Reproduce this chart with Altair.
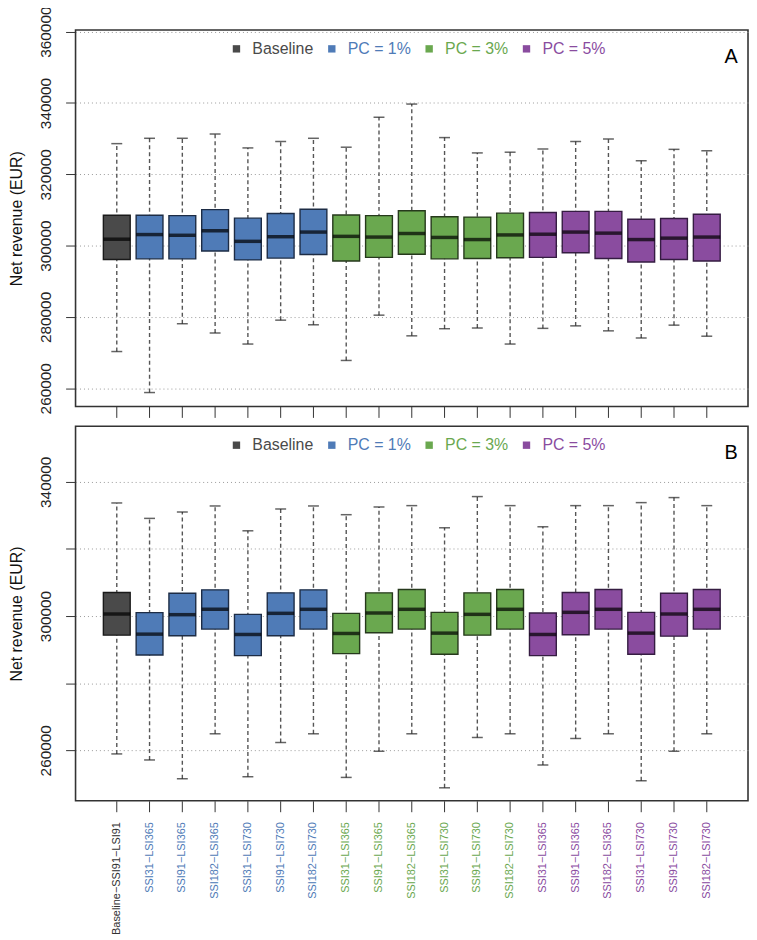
import json
import altair as alt
import pandas as pd

# ---------------- data ----------------
names = [
    "Baseline−SSI91−LSI91",
    "SSI31−LSI365", "SSI91−LSI365", "SSI182−LSI365", "SSI31−LSI730", "SSI91−LSI730", "SSI182−LSI730",
    "SSI31−LSI365", "SSI91−LSI365", "SSI182−LSI365", "SSI31−LSI730", "SSI91−LSI730", "SSI182−LSI730",
    "SSI31−LSI365", "SSI91−LSI365", "SSI182−LSI365", "SSI31−LSI730", "SSI91−LSI730", "SSI182−LSI730",
]
groups = ["Baseline"] + ["PC = 1%"] * 6 + ["PC = 3%"] * 6 + ["PC = 5%"] * 6

# Panel A
low_a = [270300, 258800, 278100, 275500, 272400, 279100, 277800, 267800, 280500, 274700,
         276700, 276900, 272400, 276800, 277500, 276100, 274100, 277700, 274600]
q1_a = [296100, 296300, 296300, 298500, 296000, 296500, 297500, 295700, 296700, 297600,
        296300, 296400, 296600, 296700, 298000, 296400, 295400, 296100, 295700]
med_a = [301800, 303100, 302900, 304200, 301200, 302500, 303800, 302600, 302400, 303400,
         302300, 301700, 303000, 303200, 303800, 303500, 301700, 302100, 302400]
q3_a = [308500, 308500, 308400, 310100, 307700, 309000, 310200, 308600, 308400, 309800,
        308100, 308000, 309100, 309300, 309600, 309600, 307400, 307600, 308800]
up_a = [328600, 330100, 330100, 331300, 327400, 329200, 330100, 327600, 336000, 339700,
        330300, 326000, 326200, 327100, 329200, 329900, 323800, 327000, 326600]

# Panel B
low_b = [258900, 257100, 251500, 264900, 252100, 262300, 264900, 251900, 259700, 264900,
         248800, 263800, 264900, 255600, 263500, 264900, 250900, 259700, 264900]
q1_b = [294300, 288400, 294100, 296100, 288200, 294100, 296100, 288800, 295000, 296100,
        288600, 294300, 296100, 288200, 294400, 296100, 288600, 294000, 296100]
med_b = [300600, 294600, 300400, 302000, 294500, 300800, 302000, 294800, 300900, 302000,
         294900, 300500, 302000, 294500, 301100, 302000, 294900, 300600, 302000]
q3_b = [307000, 301000, 306800, 307800, 300500, 306900, 307800, 300800, 306900, 307900,
        301100, 306900, 307900, 300900, 307000, 307900, 301100, 306800, 307900]
up_b = [333700, 329100, 331000, 332800, 325400, 331900, 332800, 330200, 332500, 332900,
        326300, 335600, 332900, 326600, 332900, 332900, 333800, 335300, 332900]

group_domain = ["Baseline", "PC = 1%", "PC = 3%", "PC = 5%"]
fill_colors = ["#4a4a4a", "#4f7bb7", "#6aa84f", "#8a4c9f"]
stroke_colors = ["#1a1a1a", "#1d2c45", "#26391c", "#351c42"]

yticks_a = [260000, 280000, 300000, 320000, 340000, 360000]
yticks_b = [260000, 280000, 300000, 320000, 340000]
ydomain_a = [254900, 360470]
ydomain_b = [244930, 356540]


def make_df(low, q1, med, q3, up):
    return pd.DataFrame({
        "idx": list(range(len(names))), "name": names, "group": groups,
        "low": low, "q1": q1, "med": med, "q3": q3, "up": up,
    })


x_label_expr = json.dumps(names, ensure_ascii=False) + "[datum.value]"
legend_color_expr = (
    "datum.label == 'Baseline' ? '%s' : datum.label == 'PC = 1%%' ? '%s' : "
    "datum.label == 'PC = 3%%' ? '%s' : '%s'" % tuple(fill_colors)
)


def panel(df, letter, ydomain, yvals, ylabel_expr, show_x_labels, height):
    if show_x_labels:
        x_axis = alt.Axis(
            labels=True, labelExpr=x_label_expr, labelAngle=270, labelAlign="right",
            labelBaseline="middle", labelFontSize=11, labelPadding=10, tickSize=11,
            tickColor="#333", domain=False, grid=False, title=None,
            labelColor={"condition": [
                {"test": "datum.value == 0", "value": "#333333"},
                {"test": "datum.value <= 6", "value": fill_colors[1]},
                {"test": "datum.value <= 12", "value": fill_colors[2]},
            ], "value": fill_colors[3]},
        )
    else:
        x_axis = alt.Axis(labels=False, tickSize=11, tickColor="#333", domain=False,
                          grid=False, title=None)
    x = alt.X("idx:O", axis=x_axis,
              scale=alt.Scale(type="band", domain=list(range(len(names))),
                              paddingOuter=0.758, paddingInner=0))
    y_scale = alt.Scale(domain=ydomain, nice=False, zero=False)
    y_axis = alt.Axis(
        values=yvals, format="d", labelExpr=ylabel_expr, labelAngle=270,
        labelAlign="center", labelBaseline="bottom", labelFontSize=15.5,
        labelColor="#222", labelPadding=12, tickSize=10, tickColor="#333",
        domain=False, grid=True, gridDash=[1, 3], gridColor="#9a9a9a",
        title="Net revenue (EUR)", titleFontSize=16, titleFontWeight="normal",
        titleColor="#111", titlePadding=14,
    )
    base = alt.Chart(df)
    whisk = base.mark_rule(color="#555", strokeDash=[4, 3], strokeWidth=1.4).encode(
        x=x, y=alt.Y("low:Q", scale=y_scale, axis=y_axis), y2="up:Q")
    box = base.mark_bar(size=27, strokeWidth=1.4).encode(
        x=x, y=alt.Y("q1:Q", scale=y_scale, axis=y_axis), y2="q3:Q",
        color=alt.Color("group:N",
                        scale=alt.Scale(domain=group_domain, range=fill_colors),
                        legend=alt.Legend(
                            orient="none", legendX=154, legendY=11, direction="horizontal",
                            title=None, symbolType="square", symbolSize=55,
                            symbolStrokeWidth=0, labelFontSize=16, labelOffset=8,
                            columnPadding=10, padding=0,
                            labelColor={"expr": legend_color_expr})),
        stroke=alt.Stroke("group:N",
                          scale=alt.Scale(domain=group_domain, range=stroke_colors),
                          legend=None),
    )
    med = base.mark_tick(size=27, thickness=3.5, color="#000").encode(
        x=x, y=alt.Y("med:Q", scale=y_scale, axis=y_axis))
    cap_lo = base.mark_tick(size=11, thickness=1.5, color="#222").encode(
        x=x, y=alt.Y("low:Q", scale=y_scale, axis=y_axis))
    cap_hi = base.mark_tick(size=11, thickness=1.5, color="#222").encode(
        x=x, y=alt.Y("up:Q", scale=y_scale, axis=y_axis))
    tag = alt.Chart(alt.Data(values=[{"t": letter}])).mark_text(
        fontSize=20, align="center", baseline="middle", color="#000").encode(
        x=alt.value(660), y=alt.value(27), text="t:N")
    return alt.layer(whisk, box, med, cap_lo, cap_hi, tag).properties(width=677, height=height)


panel_a = panel(make_df(low_a, q1_a, med_a, q3_a, up_a), "A", ydomain_a, yticks_a,
                "datum.label", False, 379)
panel_b = panel(make_df(low_b, q1_b, med_b, q3_b, up_b), "B", ydomain_b, yticks_b,
                "(datum.value - 260000) % 40000 == 0 ? datum.label : ''", True, 377)

chart = (
    alt.vconcat(panel_a, panel_b, spacing=20, bounds="flush")
    .resolve_scale(x="independent", y="independent", color="independent", stroke="independent")
    .properties(padding={"left": 0, "top": -6, "right": 0, "bottom": 0})
    .configure(font="Liberation Sans")
    .configure_view(stroke="#333", strokeWidth=1.6)
)

chart.save("out.html", embed_options={"renderer": "svg", "actions": False})
